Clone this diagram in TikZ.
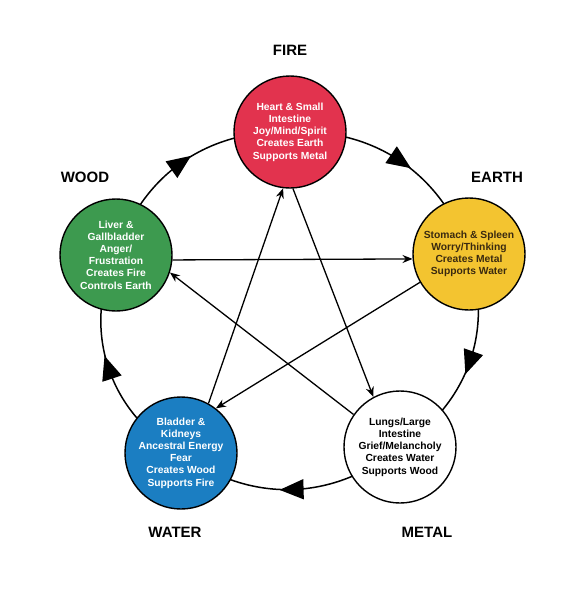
\documentclass[tikz,border=0pt]{standalone}
\usepackage{fontspec}
\setmainfont{Liberation Sans}
\usetikzlibrary{arrows.meta,decorations.markings}
\pgfdeclarelayer{background}
\pgfsetlayers{background,main}
\definecolor{firec}{HTML}{E2334E}
\definecolor{woodc}{HTML}{3D9A4F}
\definecolor{earthc}{HTML}{F3C430}
\definecolor{waterc}{HTML}{1B7EC2}
\definecolor{earthtxt}{HTML}{3A2A10}
\begin{document}
\begin{tikzpicture}[x=1pt,y=1pt,
  elem/.style={circle,draw=black,line width=1.4pt,minimum size=112pt,inner sep=0pt,align=center,
    font=\fontsize{10.3}{12.2}\selectfont\bfseries},
  lbl/.style={font=\fontsize{15}{18}\selectfont\bfseries},
  ring/.style={line width=1.5pt,postaction=decorate,
    decoration={markings,mark=at position 0.5 with {\pgftransformxshift{12pt}\arrow{Triangle[length=24pt,width=20pt]}}}},
  star/.style={line width=1.3pt,-{Stealth[length=10pt,width=8pt]}}]
\useasboundingbox (0,0) rectangle (586,-600);
% elements
\node[elem,fill=firec,text=white] (fire) at (290,-132) {Heart \& Small\\Intestine\\Joy/Mind/Spirit\\Creates Earth\\Supports Metal};
\node[elem,fill=woodc,text=white] (wood) at (116,-255) {Liver \&\\Gallbladder\\Anger/\\Frustration\\Creates Fire\\Controls Earth};
\node[elem,fill=earthc,text=earthtxt] (earth) at (469,-254) {Stomach \& Spleen\\Worry/Thinking\\Creates Metal\\Supports Water};
\node[elem,fill=waterc,text=white] (water) at (181,-453) {Bladder \&\\Kidneys\\Ancestral Energy\\Fear\\Creates Wood\\Supports Fire};
\node[elem,fill=white,text=black] (metal) at (400,-447) {Lungs/Large\\Intestine\\Grief/Melancholy\\Creates Water\\Supports Wood};
% labels
\node[lbl] (lfire) at (290,-50) {FIRE};
\node[lbl] (lwood) at (85,-177) {WOOD};
\node[lbl] (learth) at (497,-177) {EARTH};
\node[lbl] (lwater) at (175,-532) {WATER};
\node[lbl] (lmetal) at (427,-532) {METAL};
% generating cycle
\begin{pgfonlayer}{background}
\draw[ring] (wood.center) to[bend left=37] (fire.center);
\draw[ring] (fire.center) to[bend left=37] (earth.center);
\draw[ring] (earth.center) to[bend left=38] (metal.center);
\draw[ring] (metal.center) to[bend left=38] (water.center);
\draw[ring] (water.center) to[bend left=44] (wood.center);
\end{pgfonlayer}
% control cycle
\draw[star] (wood.-5) -- (earth.185);
\draw[star] (earth.210) -- (water.52);
\draw[star] (metal.145) -- (wood.-18);
\draw[star] (water.61) -- (fire.263);
\draw[star] (fire.273) -- (metal.118);
\end{tikzpicture}
\end{document}
